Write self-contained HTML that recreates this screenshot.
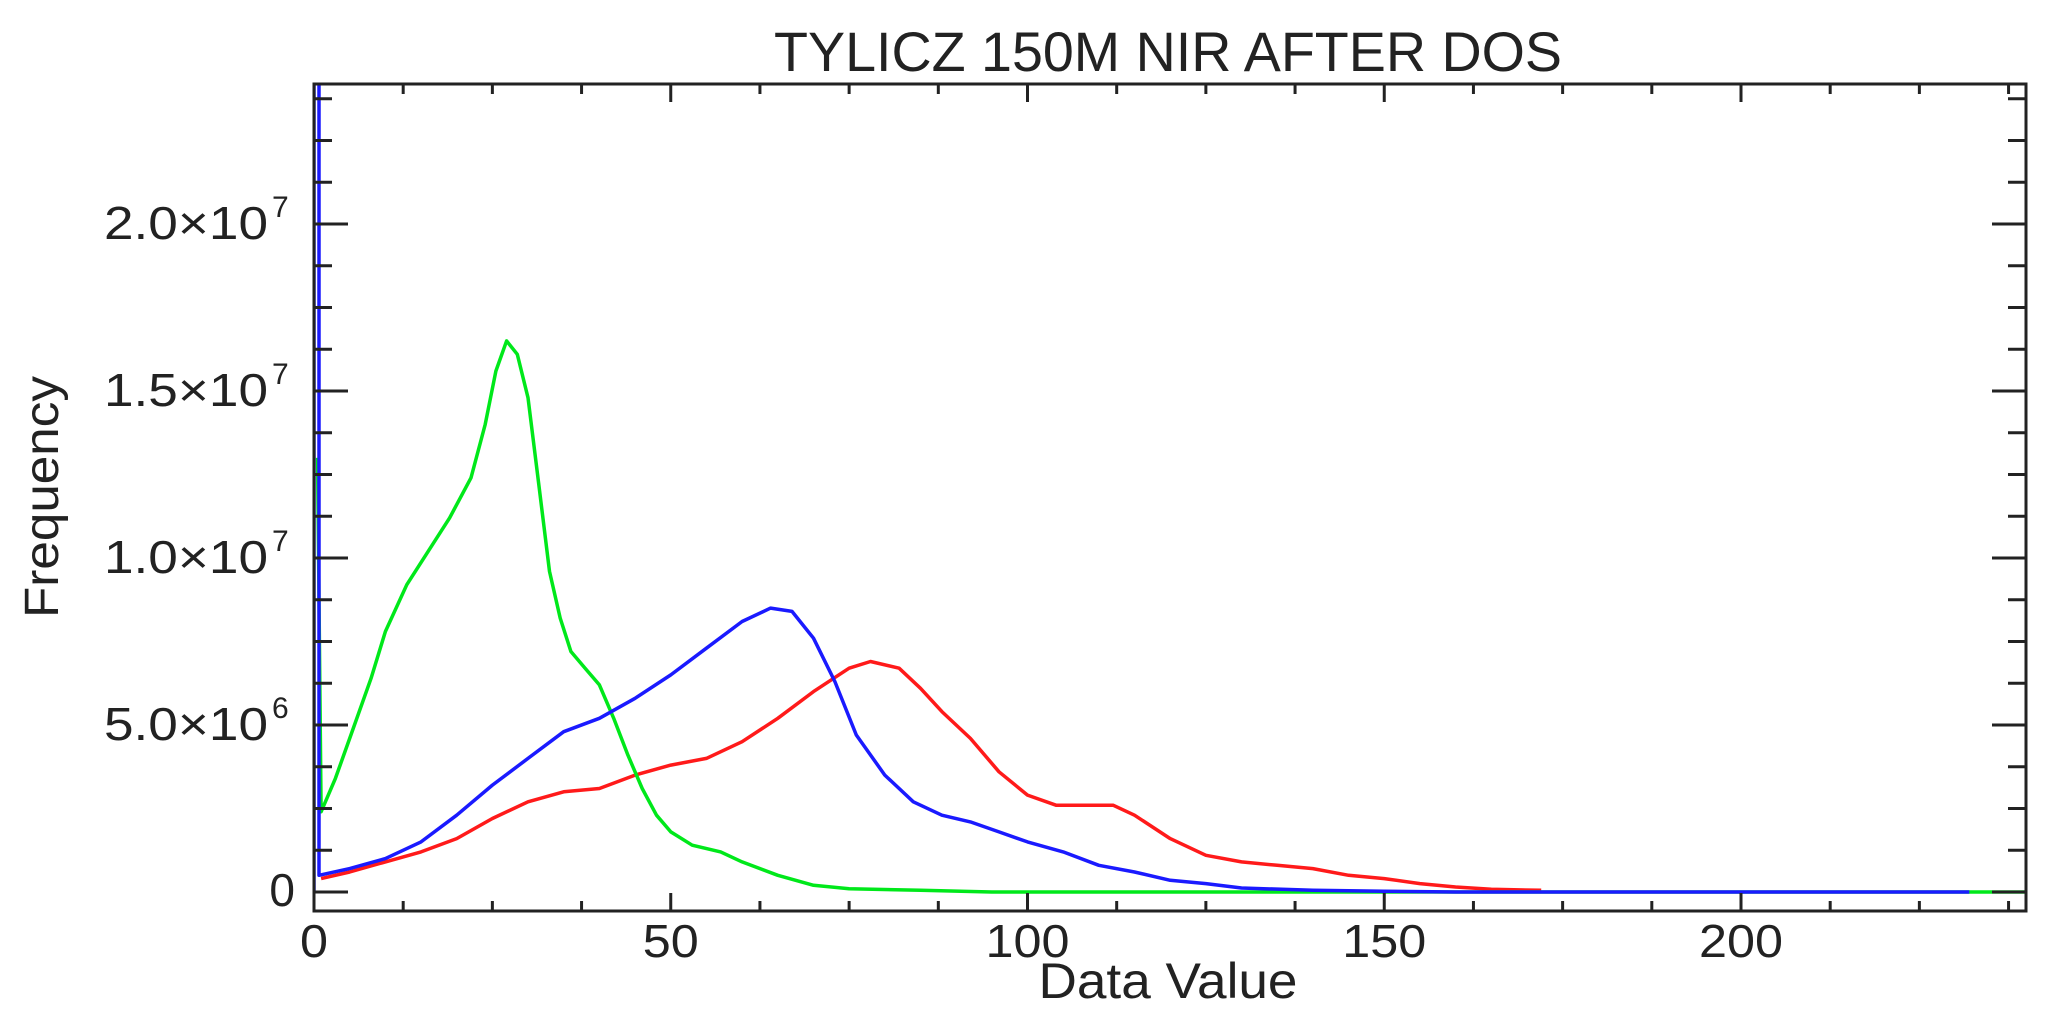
<!DOCTYPE html>
<html><head><meta charset="utf-8"><style>
html,body{margin:0;padding:0;background:#fff;}
svg{display:block;}
text{font-family:"Liberation Sans",sans-serif;fill:#222;}
</style></head><body>
<svg width="2062" height="1026" viewBox="0 0 2062 1026" xmlns="http://www.w3.org/2000/svg">
<defs>
<clipPath id="c"><rect x="314" y="84" width="1712" height="827"/></clipPath>
</defs>
<text x="1168" y="71" font-size="56" text-anchor="middle" textLength="788" lengthAdjust="spacingAndGlyphs">TYLICZ 150M NIR AFTER DOS</text>
<g id="series" clip-path="url(#c)" fill="none" stroke-width="3.5" stroke-linejoin="round">
</g>
<g id="axes" stroke="#222" stroke-width="3" fill="none">
<rect x="314" y="84" width="1712" height="827"/>
</g>
<g font-size="46">
<text x="104" y="740" textLength="164" lengthAdjust="spacingAndGlyphs">5.0×10</text><text x="272" y="718" font-size="30">6</text>
<text x="104" y="573" textLength="164" lengthAdjust="spacingAndGlyphs">1.0×10</text><text x="272" y="551" font-size="30">7</text>
<text x="104" y="406" textLength="164" lengthAdjust="spacingAndGlyphs">1.5×10</text><text x="272" y="384" font-size="30">7</text>
<text x="104" y="239" textLength="164" lengthAdjust="spacingAndGlyphs">2.0×10</text><text x="272" y="217" font-size="30">7</text>
<text x="295" y="906" text-anchor="end">0</text>
</g>
<g id="labels"></g>
<text x="1168" y="998" font-size="50" text-anchor="middle" textLength="259" lengthAdjust="spacingAndGlyphs">Data Value</text>
<text x="0" y="0" font-size="48" text-anchor="middle" textLength="242" lengthAdjust="spacingAndGlyphs" transform="translate(58,497) rotate(-90)">Frequency</text>
<script>
(function(){
var X=function(v){return 314+v*7.135;}, Y=function(v){return 892-v*33.4;};
var ns="http://www.w3.org/2000/svg";
function pl(pts,col,parent){var p=document.createElementNS(ns,"polyline");
p.setAttribute("points",pts.map(function(a){return X(a[0]).toFixed(1)+","+Y(a[1]).toFixed(1)}).join(" "));
p.setAttribute("stroke",col);document.getElementById(parent).appendChild(p);}
var red=[[1,0.4],[5,0.6],[10,0.9],[15,1.2],[20,1.6],[25,2.2],[30,2.7],[35,3.0],[40,3.1],[45,3.5],[50,3.8],[55,4.0],[60,4.5],[65,5.2],[70,6.0],[75,6.7],[78,6.9],[82,6.7],[85,6.1],[88,5.4],[92,4.6],[96,3.6],[100,2.9],[104,2.6],[112,2.6],[115,2.3],[120,1.6],[125,1.1],[130,0.9],[135,0.8],[140,0.7],[145,0.5],[150,0.4],[155,0.25],[160,0.15],[165,0.08],[172,0.05]];
var blue=[[0,0],[0,25],[0.7,25],[0.7,0.5],[5,0.7],[10,1.0],[15,1.5],[20,2.3],[25,3.2],[30,4.0],[35,4.8],[40,5.2],[45,5.8],[50,6.5],[55,7.3],[60,8.1],[64,8.5],[67,8.4],[70,7.6],[73,6.3],[76,4.7],[80,3.5],[84,2.7],[88,2.3],[92,2.1],[96,1.8],[100,1.5],[105,1.2],[110,0.8],[115,0.6],[120,0.35],[125,0.25],[130,0.12],[140,0.05],[150,0.02],[160,0],[232,0]];
var green=[[0.5,13],[1,2.4],[3,3.4],[5,4.6],[8,6.4],[10,7.8],[13,9.2],[16,10.2],[19,11.2],[22,12.4],[24,14.0],[25.5,15.6],[27,16.5],[28.5,16.1],[30,14.8],[31.5,12.2],[33,9.6],[34.5,8.2],[36,7.2],[38,6.7],[40,6.2],[42,5.2],[44,4.1],[46,3.1],[48,2.3],[50,1.8],[53,1.4],[57,1.2],[60,0.9],[65,0.5],[70,0.2],[75,0.1],[85,0.05],[95,0],[240,0]];
pl(red,"#ff1a1a","series");pl(green,"#00e81a","series");pl(blue,"#1a1aff","series");
var ax=document.getElementById("axes");
function ln(x1,y1,x2,y2){var l=document.createElementNS(ns,"line");l.setAttribute("x1",x1);l.setAttribute("y1",y1);l.setAttribute("x2",x2);l.setAttribute("y2",y2);ax.appendChild(l);}
for(var i=0;i<=19;i++){var v=i*12.5;if(v>240)break;var x=X(v);var maj=(i%4==0);var L=maj?18:10;ln(x,911,x,911-L);ln(x,84,x,84+L);}
for(var j=0;j<=19;j++){var y=Y(j*1.25);if(y<84)break;var maj=(j%4==0);var L=maj?34:18;ln(314,y,314+L,y);ln(2026,y,2026-L,y);}
var lb=document.getElementById("labels");
[[0,"0"],[50,"50"],[100,"100"],[150,"150"],[200,"200"]].forEach(function(a){var t=document.createElementNS(ns,"text");t.setAttribute("x",X(a[0]));t.setAttribute("y",957);t.setAttribute("font-size",46);t.setAttribute("text-anchor","middle");t.setAttribute("textLength",a[1].length*28);t.setAttribute("lengthAdjust","spacingAndGlyphs");t.textContent=a[1];lb.appendChild(t);});
})();
</script>
</svg>
</body></html>
